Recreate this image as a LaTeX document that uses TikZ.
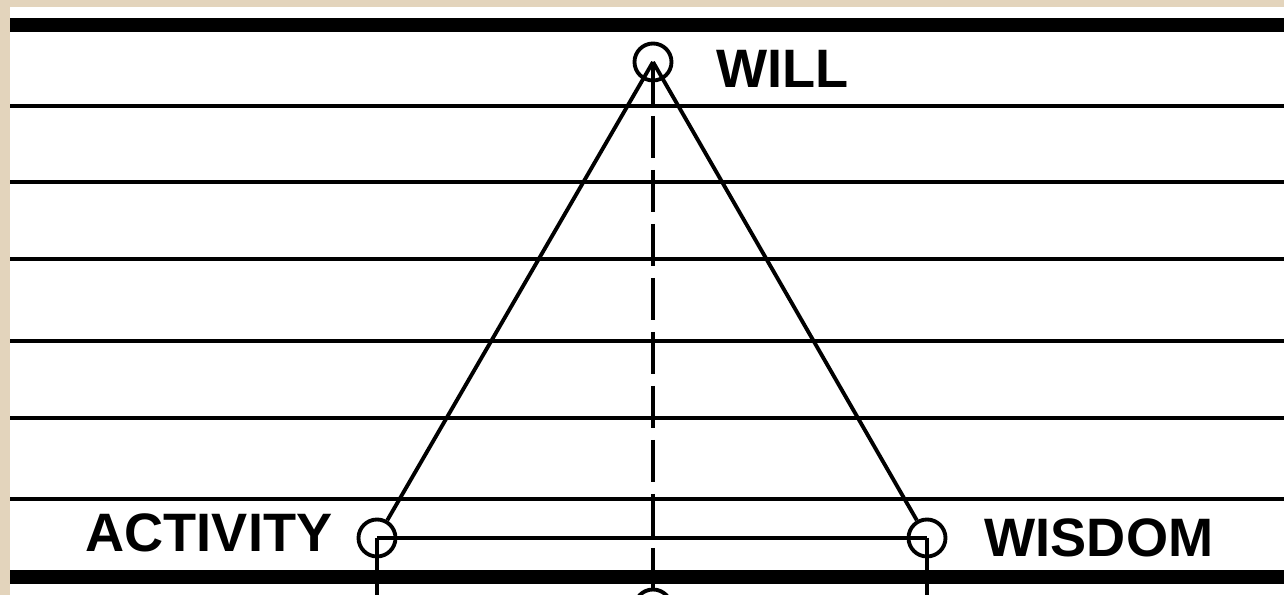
\documentclass[tikz,border=0pt]{standalone}
\usepackage{fontspec}
\setmainfont{Liberation Sans}
\usetikzlibrary{positioning}
\definecolor{paper}{RGB}{227,212,188}
\begin{document}
\begin{tikzpicture}[x=1cm,y=1cm,
    point/.style={circle, draw, line width=1.1pt, minimum size=0.37cm, inner sep=0pt},
    word/.style={font=\fontsize{15.4}{18}\selectfont\bfseries, inner sep=0pt},
    rule/.style={line width=1.1pt},
    bar/.style={line width=4pt}]
      % Page
      \fill[paper] (0,0) rectangle (12.84,5.95);
      \useasboundingbox (0,0) rectangle (12.84,5.95);
      \clip (0,0) rectangle (12.84,5.95);
      \fill[white] (0.10,0) rectangle (12.84,5.88);

      % Ruled lines
      \foreach \y in {4.89,4.13,3.36,2.54,1.77,0.96}
        \draw[rule] (0.10,\y) -- (12.84,\y);
      \draw[bar] (0.10,5.70) -- (12.84,5.70);
      \draw[bar] (0.10,0.18) -- (12.84,0.18);

      % Points
      \node[point] (will) at (6.53,5.33) {};
      \node[point] (act) at (3.77,0.57) {};
      \node[point] (wis) at (9.27,0.57) {};
      \node[point] (low) at (6.53,-0.13) {};

      % Labels
      \node[word, anchor=west] (willtxt) at (7.16,5.265) {WILL};
      \node[word, anchor=east] (acttxt) at (3.33,0.62) {ACTIVITY};
      \node[word, anchor=west] (wistxt) at (9.84,0.575) {WISDOM};

      % Connections
      \coordinate (actend) at (3.77,-0.20);
      \coordinate (wisend) at (9.27,-0.20);
      \draw[rule] (will.center) -- (act);
      \draw[rule] (will.center) -- (wis);
      \draw[rule] (act.center) -- (wis.center);
      \draw[rule] (act.center) -- (actend);
      \draw[rule] (wis.center) -- (wisend);
      \draw[rule, dash pattern=on 0.42cm off 0.12cm] (will.center) -- (low);
\end{tikzpicture}
\end{document}
